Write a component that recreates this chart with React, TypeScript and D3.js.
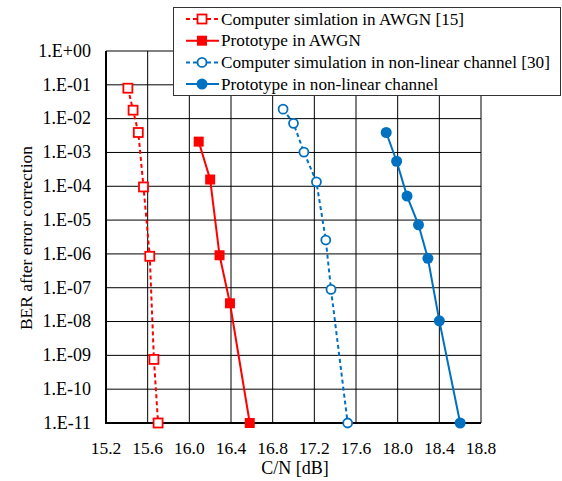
import React, { useEffect, useRef } from "react";
import * as d3 from "d3";

// C/N [dB] and BER (as log10 exponent)
const simAwgnX = [15.41, 15.46, 15.51, 15.56, 15.62, 15.66, 15.70];
const simAwgnY = [-1.1, -1.75, -2.41, -4.02, -6.07, -9.12, -11];
const protoAwgnX = [16.09, 16.2, 16.29, 16.39, 16.58];
const protoAwgnY = [-2.68, -3.8, -6.04, -7.46, -11];
const simNlX = [16.9, 17.0, 17.1, 17.22, 17.31, 17.36, 17.52];
const simNlY = [-1.72, -2.14, -2.99, -3.87, -5.59, -7.05, -11];
const protoNlX = [17.89, 17.99, 18.09, 18.2, 18.29, 18.4, 18.6];
const protoNlY = [-2.41, -3.26, -4.29, -5.14, -6.13, -7.98, -11];

const xTicks = [15.2, 15.6, 16.0, 16.4, 16.8, 17.2, 17.6, 18.0, 18.4, 18.8];
const yTicks = [0, -1, -2, -3, -4, -5, -6, -7, -8, -9, -10, -11];

const legendLabels = [
  "Computer simlation in AWGN [15]",
  "Prototype in AWGN",
  "Computer simulation in non-linear channel [30]",
  "Prototype in non-linear channel",
];

const App = () => {
  const ref = useRef<SVGSVGElement>(null);

  useEffect(() => {
    const svg = d3.select(ref.current);
    svg.selectAll("*").remove();
    svg.attr("font-family", "Liberation Serif, Times New Roman, DejaVu Serif, serif");

    const left = 106, right = 481, top = 51, bottom = 423;
    const x = d3.scaleLinear().domain([15.2, 18.8]).range([left, right]);
    const y = d3.scaleLinear().domain([0, -11]).range([top, bottom]);

    const g = svg.append("g");

    // grid
    g.selectAll(".vg").data(xTicks).enter().append("line")
      .attr("x1", d => x(d)).attr("x2", d => x(d))
      .attr("y1", top).attr("y2", bottom)
      .attr("stroke", "#000").attr("stroke-width", 1);
    g.selectAll(".hg").data(yTicks).enter().append("line")
      .attr("x1", left).attr("x2", right)
      .attr("y1", d => y(d)).attr("y2", d => y(d))
      .attr("stroke", "#000").attr("stroke-width", 1);

    // axes (thicker left/bottom)
    g.append("line").attr("x1", left).attr("x2", left).attr("y1", top).attr("y2", bottom + 1)
      .attr("stroke", "#000").attr("stroke-width", 2);
    g.append("line").attr("x1", left - 1).attr("x2", right).attr("y1", bottom).attr("y2", bottom)
      .attr("stroke", "#000").attr("stroke-width", 2);

    // tick labels
    g.selectAll(".xt").data(xTicks).enter().append("text")
      .attr("x", d => x(d)).attr("y", 454)
      .attr("text-anchor", "middle")
      .attr("font-size", 17.5)
      .text(d => d.toFixed(1));
    g.selectAll(".yt").data(yTicks).enter().append("text")
      .attr("x", 91).attr("y", d => y(d) + 5.8)
      .attr("text-anchor", "end")
      .attr("font-size", 18)
      .text(d => d === 0 ? "1.E+00" : "1.E-" + String(-d).padStart(2, "0"));

    // axis titles
    g.append("text")
      .attr("x", 295).attr("y", 474)
      .attr("text-anchor", "middle")
      .attr("font-size", 18)
      .text("C/N [dB]");
    g.append("text")
      .attr("transform", `translate(32, 238) rotate(-90)`)
      .attr("text-anchor", "middle")
      .attr("font-size", 17.5)
      .text("BER after error correction");

    const series = [
      { xs: simAwgnX, ys: simAwgnY, color: "#ff0000", dash: "4,3", marker: "square", filled: false },
      { xs: protoAwgnX, ys: protoAwgnY, color: "#ff0000", dash: null, marker: "square", filled: true },
      { xs: simNlX, ys: simNlY, color: "#0070c0", dash: "4,3", marker: "circle", filled: false },
      { xs: protoNlX, ys: protoNlY, color: "#0070c0", dash: null, marker: "circle", filled: true },
    ];

    const line = d3.line<[number, number]>().x(d => x(d[0])).y(d => y(d[1]));

    const drawMarker = (sel: any, s: any, cx: number, cy: number) => {
      if (s.marker === "square") {
        const sz = s.filled ? 10 : 9;
        sel.append("rect")
          .attr("x", cx - sz / 2).attr("y", cy - sz / 2)
          .attr("width", sz).attr("height", sz)
          .attr("fill", s.filled ? s.color : "#fff")
          .attr("stroke", s.color).attr("stroke-width", s.filled ? 0 : 1.8);
      } else {
        sel.append("circle")
          .attr("cx", cx).attr("cy", cy).attr("r", s.filled ? 5.5 : 4.5)
          .attr("fill", s.filled ? s.color : "#fff")
          .attr("stroke", s.color).attr("stroke-width", s.filled ? 0 : 1.8);
      }
    };

    series.forEach(s => {
      const pts: [number, number][] = s.xs.map((v, i) => [v, s.ys[i]]);
      g.append("path")
        .attr("d", line(pts))
        .attr("fill", "none")
        .attr("stroke", s.color)
        .attr("stroke-width", 2)
        .attr("stroke-dasharray", s.dash);
      pts.forEach(p => drawMarker(g, s, x(p[0]), y(p[1])));
    });

    // legend
    const lg = svg.append("g");
    lg.append("rect")
      .attr("x", 173.5).attr("y", 7.5).attr("width", 387).attr("height", 88)
      .attr("fill", "#fff").attr("stroke", "#333").attr("stroke-width", 1);
    series.forEach((s, i) => {
      const cy = 19 + i * 21.7;
      lg.append("line")
        .attr("x1", 186).attr("x2", 219).attr("y1", cy).attr("y2", cy)
        .attr("stroke", s.color).attr("stroke-width", 2)
        .attr("stroke-dasharray", s.dash);
      drawMarker(lg, s, 202, cy);
      lg.append("text")
        .attr("x", 221).attr("y", cy + 5.5)
        .attr("font-size", 17.2)
        .text(legendLabels[i]);
    });
  }, []);

  return (
    <div>
      <svg ref={ref} width="562" height="481" style={{ position: "absolute", left: 0, top: 0 }}></svg>
    </div>
  );
};

export default App;
